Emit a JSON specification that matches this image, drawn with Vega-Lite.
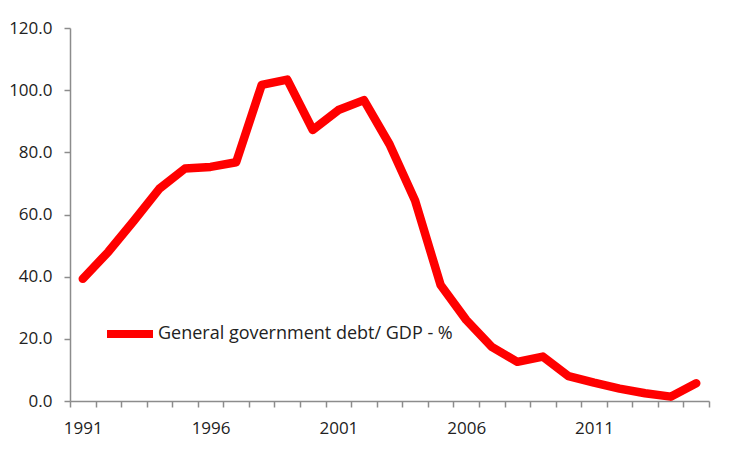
{
  "$schema": "https://vega.github.io/schema/vega-lite/v6.json",
  "width": 639,
  "height": 373,
  "autosize": "none",
  "padding": {"left": 70, "top": 28, "right": 41, "bottom": 49},
  "background": "white",
  "data": {
    "values": [
      {"year": 1991, "debt": 39.3},
      {"year": 1992, "debt": 48.0},
      {"year": 1993, "debt": 58.0},
      {"year": 1994, "debt": 68.3},
      {"year": 1995, "debt": 74.8},
      {"year": 1996, "debt": 75.3},
      {"year": 1997, "debt": 76.8},
      {"year": 1998, "debt": 101.7},
      {"year": 1999, "debt": 103.4},
      {"year": 2000, "debt": 87.2},
      {"year": 2001, "debt": 93.6},
      {"year": 2002, "debt": 96.8},
      {"year": 2003, "debt": 82.6},
      {"year": 2004, "debt": 64.5},
      {"year": 2005, "debt": 37.3},
      {"year": 2006, "debt": 26.1},
      {"year": 2007, "debt": 17.4},
      {"year": 2008, "debt": 12.6},
      {"year": 2009, "debt": 14.3},
      {"year": 2010, "debt": 8.0},
      {"year": 2011, "debt": 5.9},
      {"year": 2012, "debt": 4.0},
      {"year": 2013, "debt": 2.5},
      {"year": 2014, "debt": 1.4},
      {"year": 2015, "debt": 5.7}
    ]
  },
  "config": {
    "view": {"stroke": null},
    "font": "Open Sans",
    "axis": {
      "grid": false,
      "domainColor": "#8c8c8c",
      "domainWidth": 1.5,
      "tickColor": "#8c8c8c",
      "tickWidth": 1.5,
      "tickSize": 6,
      "labelFont": "Open Sans",
      "labelFontSize": 17,
      "labelColor": "#222222",
      "title": null
    }
  },
  "mark": {
    "type": "line",
    "color": "#ff0000",
    "strokeWidth": 8.5,
    "strokeJoin": "round",
    "strokeCap": "round"
  },
  "encoding": {
    "x": {
      "field": "year",
      "type": "ordinal",
      "scale": {"paddingInner": 0, "paddingOuter": 0},
      "axis": {
        "tickBand": "extent",
        "labelAngle": 0,
        "labelPadding": 13,
        "labelExpr": "(toNumber(datum.value) - 1991) % 5 == 0 ? datum.label : ''"
      }
    },
    "y": {
      "field": "debt",
      "type": "quantitative",
      "scale": {"domain": [0, 120]},
      "axis": {
        "values": [0, 20, 40, 60, 80, 100, 120],
        "format": ".1f",
        "labelPadding": 12
      }
    },
    "color": {
      "datum": "General government debt/ GDP - %",
      "scale": {"range": ["#ff0000"]},
      "legend": {
        "title": null,
        "orient": "none",
        "legendX": 33,
        "legendY": 279,
        "padding": 0,
        "symbolType": "stroke",
        "symbolStrokeWidth": 8,
        "symbolSize": 2116,
        "labelFont": "Open Sans",
        "labelFontSize": 18,
        "labelLimit": 0,
        "labelColor": "#222222",
        "labelOffset": 1
      }
    }
  }
}
